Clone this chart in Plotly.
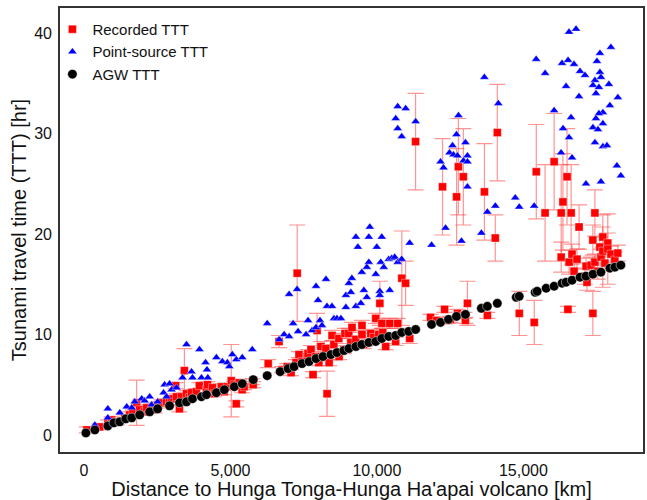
import plotly.graph_objects as go

# Recorded tsunami travel times (distance km, time hr, +/- uncertainty hr)
rec_km = [
    100, 540, 820, 950, 1120, 1390, 1560, 1670, 1800, 1900, 2070, 2140, 2350, 2410, 2520, 2650,
    2820, 2920, 2990, 3130, 3160, 3260, 3330, 3430, 3500, 3600, 3670, 3840, 3940, 4180, 4220,
    4390, 4450, 4690, 4790, 4900, 5030, 5130, 5200, 5300, 5400, 5470, 5750,
    5780, 6290, 6660, 6770, 6940, 7070, 7240, 7280, 7340, 7450, 7620, 7650, 7750, 7820, 7920,
    7960, 8020, 8090, 8260, 8300, 8360, 8370, 8470, 8530, 8700, 8710, 8870, 8910, 9040, 9110,
    9150, 9280, 9490, 9490, 9550, 9720, 9790, 9890, 9960, 10060, 10100, 10170, 10200, 10300,
    10440, 10640, 10710, 10850, 10980, 11120,
    11320, 11830, 12040, 12240, 12310, 12440, 12510, 12720, 12750, 12780, 12950, 12990, 13020,
    13090, 13670, 13770, 14040, 14110, 14860, 15370, 15440, 15740, 16050, 16290, 16290, 16350,
    16490, 16520, 16560, 16630, 16660, 16730, 16830, 16900, 17100, 17140, 17170, 17310, 17370,
    17370, 17440, 17440, 17540, 17610, 17650, 17710, 17710, 17780, 17880, 17880, 17990, 18120,
    18220,
]
rec_hr = [
    0.5, 0.8, 1.2, 1.5, 1.3, 1.7, 2.0, 2.2, 3.2, 2.5, 2.3, 2.7, 2.8, 2.5, 3.0, 3.2,
    3.3, 3.3, 3.6, 4.9, 3.8, 2.6, 3.8, 6.4, 4.1, 3.7, 4.2, 4.3, 4.9, 4.5, 5.0,
    4.7, 4.1, 4.8, 4.3, 4.8, 5.4, 5.0, 3.1, 5.2, 4.5, 4.8, 5.3,
    5.0, 7.1, 9.3, 6.5, 6.8, 6.2, 7.2, 16.1, 8.0, 7.3, 7.8, 8.1, 8.5, 6.0, 7.8,
    10.4, 7.2, 8.8, 8.6, 4.1, 7.8, 7.2, 9.9, 9.0, 9.6, 7.8, 8.5, 10.1, 10.1, 9.2,
    10.7, 9.5, 10.9, 10.0, 9.0, 9.2, 10.1, 9.7, 11.6, 10.0, 13.1, 11.1, 10.2, 8.8,
    11.1, 9.3, 11.1, 15.6, 15.1, 9.6,
    29.2, 11.7, 11.4, 24.7, 12.5, 11.4, 11.5, 23.7, 12.1, 26.7, 25.7, 11.9, 11.4,
    13.1, 24.2, 11.9, 19.6, 30.1, 12.1, 11.2, 26.2, 22.1, 27.2, 22.1, 17.7, 23.2,
    25.7, 12.5, 17.2, 22.1, 18.0, 16.3, 17.5, 20.7, 15.8, 16.8, 15.2, 16.9, 19.4,
    12.1, 22.1, 17.2, 16.3, 18.7, 17.7, 19.7, 18.3, 17.1, 19.1, 18.5, 18.0, 17.4,
    18.1,
]
rec_err = [
    0.3, 0.3, 0.3, 0.3, 0.3, 0.3, 0.3, 0.3, 2.25, 0.3, 0.3, 0.3, 0.3, 0.3, 0.3, 0.3,
    0.3, 0.3, 0.3, 0.3, 0.3, 0.3, 0.3, 2.2, 0.3, 0.3, 0.3, 0.3, 0.3, 0.3, 0.3,
    0.3, 0.3, 0.3, 0.3, 0.3, 3.6, 0.3, 0.3, 0.3, 0.3, 0.3, 0.3,
    0.3, 0.4, 0.6, 0.3, 0.3, 0.3, 0.3, 4.8, 0.3, 0.3, 0.3, 0.4, 0.4, 0.3, 0.3,
    1.7, 0.3, 0.5, 0.4, 2.25, 0.3, 0.3, 0.5, 0.4, 0.5, 0.3, 0.4, 0.5, 0.5, 0.4,
    0.5, 0.4, 0.5, 0.4, 0.4, 0.3, 0.4, 0.4, 0.5, 0.4, 2.2, 0.5, 0.4, 0.3,
    0.5, 0.4, 0.5, 4.7, 2.2, 0.5,
    4.8, 0.3, 0.3, 4.8, 0.3, 0.3, 0.3, 4.8, 0.4, 4.8, 4.8, 0.3, 0.3,
    2.2, 4.8, 0.3, 2.3, 4.8, 2.2, 2.2, 4.7, 4.8, 4.8, 4.8, 1.5, 4.8,
    4.8, 0.3, 1.2, 4.8, 1.0, 0.8, 1.0, 2.2, 0.8, 0.8, 0.8, 0.8, 1.5,
    2.2, 2.3, 0.8, 0.8, 1.0, 0.8, 1.0, 3.6, 0.8, 1.0, 3.5, 0.8, 0.8,
    0.8,
]

# Point-source model travel times
ps_km = [
    374, 816, 816, 1224, 1462, 1632, 1734, 1972, 2074, 2244, 2312, 2516, 2720, 2754, 2822,
    2924, 2992, 3162, 3366, 3502, 3672, 3706, 3944, 4012, 4150, 4200, 4230, 4522, 4726, 4896,
    4964, 5066, 5202, 5406, 5746, 6256, 6664, 6834, 7004, 7004, 7140, 7276, 7310, 7582, 7650,
    7786, 7922, 7922, 7990, 8058, 8126, 8262, 8296, 8466, 8534, 8636, 8772, 8942, 8942, 9044,
    9112, 9146, 9282, 9452, 9486, 9554, 9282, 9350, 9758, 9724, 9656, 9724, 9962, 9996, 10132,
    10166, 10234, 10404, 10506, 10608, 10710, 10846, 10438, 10098, 10098, 9656, 11118, 11866,
    12342, 12886,
    10710, 10982, 10642, 11322, 10710, 10846, 12784, 12716, 13022, 12580, 12478, 12614, 12750,
    13090, 12172, 12274, 12954, 13090, 13090, 14144, 14722, 14858, 14042, 13770, 13566, 15368,
    13668, 15436, 15742, 16048, 16558, 16796, 16320, 16524, 16728, 16932, 17102, 16456, 16898,
    16626, 16354, 16558, 16286, 16660, 17136, 17646, 17612, 17986, 17510, 17612, 17442, 17646,
    17374, 17578, 17918, 17476, 18224, 17952, 17714, 17578, 17476, 17714, 17374, 17544, 17442,
    17714, 17850, 18190, 18326,
]
ps_hr = [
    1.0, 2.6, 1.7, 2.2, 2.8, 2.7, 3.3, 3.6, 3.4, 3.8, 3.0, 3.3, 4.2, 5.0, 3.8,
    5.1, 4.5, 4.7, 5.7, 9.0, 6.3, 5.7, 8.5, 5.7, 7.2, 6.5, 5.7, 7.7, 7.3, 7.2,
    6.8, 8.0, 7.5, 7.7, 8.5, 11.1, 9.5, 10.0, 14.0, 9.8, 11.1, 14.5, 10.3, 10.0, 11.4,
    10.4, 14.8, 10.7, 13.4, 11.4, 10.9, 15.5, 12.8, 12.8, 11.6, 11.6, 11.6, 13.9, 12.7, 15.1,
    14.2, 15.6, 12.8, 13.1, 16.2, 14.4, 19.7, 18.7, 20.7, 19.7, 16.7, 17.2, 16.0, 18.7, 17.2,
    19.7, 16.7, 17.5, 17.6, 17.7, 17.2, 17.5, 14.4, 14.3, 13.9, 13.7, 19.1, 18.9,
    20.6, 19.3,
    32.7, 32.5, 31.5, 31.2, 30.5, 29.7, 31.8, 29.9, 29.1, 28.8, 28.1, 27.9, 27.8,
    27.8, 27.2, 26.6, 27.3, 27.2, 24.7, 33.0, 23.6, 22.7, 22.8, 22.2, 20.1, 22.8,
    35.6, 37.4, 36.0, 32.3, 40.1, 40.4, 37.0, 37.3, 36.9, 36.2, 35.8, 34.7, 33.7,
    31.6, 30.5, 29.6, 28.1, 27.6, 25.0, 25.2, 38.0, 38.6, 37.2, 36.1, 35.3, 35.6,
    34.8, 34.6, 34.9, 34.0, 33.6, 32.8, 32.1, 32.0, 31.5, 31.0, 30.6, 30.4, 29.1,
    28.7, 28.8, 26.8, 25.8,
]

# Atmospheric gravity wave (AGW) travel times
agw_km = [
    68, 374, 816, 1020, 1224, 1428, 1632, 1904, 2244, 2516, 2924, 3264, 3502, 3706, 4012,
    4182, 4522, 4794, 5134, 5406, 5780, 6256, 6698, 6970, 7174, 7446, 7684, 7922, 8160, 8432,
    8636, 8874, 9044, 9282, 9486, 9724, 9962, 10166, 10404, 10642, 10846, 11084, 11322, 11866,
    12172, 12444, 12716, 13022, 13566, 13770, 14110, 14756, 14858, 15402, 15470, 15776, 16048,
    16320, 16456, 16660, 16932, 17136, 17374, 17646, 17952, 18122, 18326,
]
agw_hr = [
    0.2, 0.5, 0.9, 1.2, 1.3, 1.6, 1.7, 2.0, 2.3, 2.6, 2.9, 3.2, 3.3, 3.6, 3.8,
    4.0, 4.2, 4.5, 4.8, 5.1, 5.5, 5.9, 6.3, 6.6, 6.8, 7.1, 7.3, 7.6, 7.8, 8.0,
    8.2, 8.4, 8.6, 8.8, 9.0, 9.2, 9.3, 9.6, 9.8, 9.9, 10.2, 10.3, 10.5, 11.0,
    11.2, 11.5, 11.8, 12.0, 12.6, 12.8, 13.1, 13.7, 13.8, 14.2, 14.3, 14.6, 14.8,
    15.1, 15.2, 15.4, 15.7, 15.8, 16.0, 16.2, 16.6, 16.7, 16.9,
]

FONT = "Arial, Liberation Sans, sans-serif"

fig = go.Figure()

fig.add_trace(go.Scatter(
    x=rec_km, y=rec_hr, mode="markers", name="Recorded TTT",
    marker=dict(symbol="square", size=8, color="#ff0000",
                line=dict(color="rgba(255,255,255,0.7)", width=0.5)),
    error_y=dict(type="data", array=rec_err, visible=True,
                 color="rgba(255,60,60,0.55)", thickness=1.2, width=8),
))
fig.add_trace(go.Scatter(
    x=ps_km, y=ps_hr, mode="markers", name="Point-source TTT",
    marker=dict(symbol="triangle-up", size=8, color="#0000ff",
                line=dict(color="rgba(255,255,255,0.7)", width=0.5)),
))
fig.add_trace(go.Scatter(
    x=agw_km, y=agw_hr, mode="markers", name="AGW TTT",
    marker=dict(symbol="circle", size=9.5, color="#000000",
                line=dict(color="rgba(255,255,255,0.8)", width=0.6)),
))

axis_common = dict(
    showgrid=False, zeroline=False, showline=True, mirror=True,
    linecolor="#333333", linewidth=1.6,
    ticks="outside", ticklen=3, tickcolor="rgba(0,0,0,0)",
    tickfont=dict(family=FONT, size=16, color="#111111"),
)

fig.update_layout(
    width=647, height=500,
    margin=dict(l=60, r=2, t=8, b=48),
    paper_bgcolor="white", plot_bgcolor="white",
    font=dict(family=FONT, color="#111111"),
    xaxis=dict(
        range=[-816, 19082], tickvals=[0, 5000, 10000, 15000],
        ticktext=["0", "5,000", "10,000", "15,000"],
        title=dict(text="Distance to Hunga Tonga-Hunga Ha'apai volcano [km]",
                   font=dict(family=FONT, size=20), standoff=0),
        **axis_common,
    ),
    yaxis=dict(
        range=[-1.7, 42.5], tickvals=[0, 10, 20, 30, 40],
        title=dict(text="Tsunami travel time (TTT) [hr]",
                   font=dict(family=FONT, size=20), standoff=2),
        **axis_common,
    ),
    legend=dict(
        x=-0.013, y=0.989, xanchor="left", yanchor="top",
        bgcolor="rgba(255,255,255,0)", borderwidth=0,
        font=dict(family=FONT, size=15),
        itemsizing="trace", tracegroupgap=0,
    ),
    showlegend=True,
)

fig.write_html("out.html")
